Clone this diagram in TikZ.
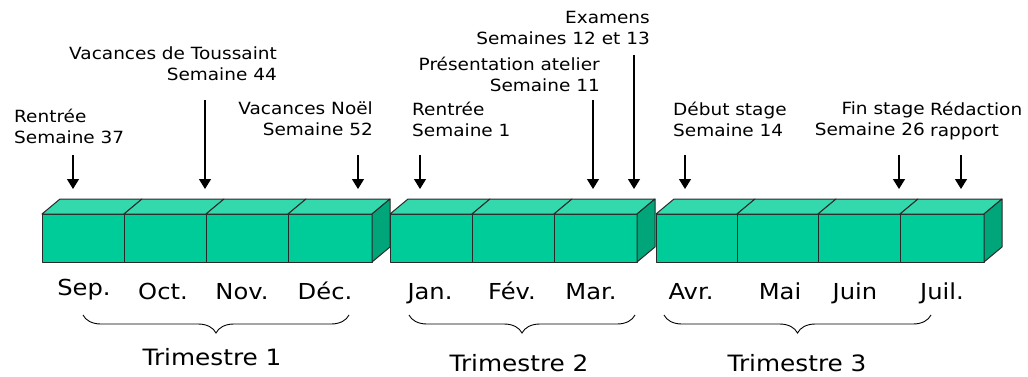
\documentclass[tikz,border=0pt]{standalone}
\usepackage{fontspec}
\setmainfont{DejaVu Sans}[FakeStretch=1.1]
\usetikzlibrary{arrows.meta,decorations.pathreplacing}
\definecolor{frontc}{HTML}{00CC99}
\definecolor{topc}{HTML}{33D9AD}
\definecolor{sidec}{HTML}{00A57A}
\definecolor{edgec}{HTML}{2A2A2A}
\begin{document}
\begin{tikzpicture}[x=1pt,y=-1pt,
  lbl/.style={inner sep=0pt, font=\fontsize{16.8}{21}\selectfont, execute at begin node=\strut},
  lbll/.style={lbl, align=left, anchor=north west},
  lblr/.style={lbl, align=right, anchor=north east},
  month/.style={inner sep=0pt, anchor=base, font=\fontsize{22}{26}\selectfont},
  trim/.style={inner sep=0pt, anchor=base, font=\fontsize{22.5}{26}\selectfont},
  evarrow/.style={line width=1.3pt, -{Triangle[width=12pt,length=10pt]}},
  face/.style={draw=edgec, line width=1pt, line join=round},
  brc/.style={decorate, decoration={brace, mirror, amplitude=18pt}, line width=0.9pt}
]
\useasboundingbox (0,0) rectangle (1028,377);

% blocks
\foreach \a/\b in {42/124,124/206,206/288,288/372,390/472,472/554,554/637,656/737,737/818,818/900,900/984}{
  \filldraw[face, fill=frontc] (\a,214) rectangle (\b,262);
  \filldraw[face, fill=topc] (\a,214) -- (\a+18,199) -- (\b+18,199) -- (\b,214) -- cycle;
}
\foreach \b in {372,637,984}{
  \filldraw[face, fill=sidec] (\b,214) -- (\b+18,199) -- (\b+18,247) -- (\b,262) -- cycle;
}

% labels
\node[lbll] (l1) at (14,108.5) {Rentrée\\Semaine 37};
\node[lblr] (l2) at (277,46.5) {Vacances de Toussaint\\Semaine 44};
\node[lblr] (l3) at (373,101.5) {Vacances Noël\\Semaine 52};
\node[lbll] (l4) at (412,101.5) {Rentrée\\Semaine 1};
\node[lblr] (l5) at (600,56.5) {Présentation atelier\\Semaine 11};
\node[lblr] (l6) at (650,11.5) {Examens\\Semaines 12 et 13};
\node[lbll] (l7) at (673,101.5) {Début stage\\Semaine 14};
\node[lblr] (l8) at (925,101.5) {Fin stage\\Semaine 26};
\node[lbll] (l9) at (930,101.5) {Rédaction\\rapport};

% arrows
\foreach \n/\x/\t in {a1/73/155,a2/205/100,a3/358/155,a4/420/155,a5/593/100,a6/634/55,a7/685/155,a8/899/155,a9/961/155}{
  \coordinate (\n s) at (\x,\t);
  \coordinate (\n e) at (\x,189);
  \draw[evarrow] (\n s) -- (\n e);
}

% months
\node[month] (m1) at (84,295) {Sep.};
\node[month] (m2) at (163,299) {Oct.};
\node[month] (m3) at (242,299) {Nov.};
\node[month] (m4) at (325,299) {Déc.};
\node[month] (m5) at (430,299) {Jan.};
\node[month] (m6) at (512,299) {Fév.};
\node[month] (m7) at (591,299) {Mar.};
\node[month] (m8) at (691,299) {Avr.};
\node[month] (m9) at (780,299) {Mai};
\node[month] (m10) at (855,299) {Juin};
\node[month] (m11) at (942,299) {Juil.};

% braces
\coordinate (b1s) at (83,315);  \coordinate (b1e) at (349,315);
\coordinate (b2s) at (409,315); \coordinate (b2e) at (635,315);
\coordinate (b3s) at (664,315); \coordinate (b3e) at (931,315);
\draw[brc] (b1s) -- (b1e);
\draw[brc] (b2s) -- (b2e);
\draw[brc] (b3s) -- (b3e);

\node[trim] (t1) at (212,365) {Trimestre 1};
\node[trim] (t2) at (519,371) {Trimestre 2};
\node[trim] (t3) at (797,371) {Trimestre 3};
\end{tikzpicture}
\end{document}
